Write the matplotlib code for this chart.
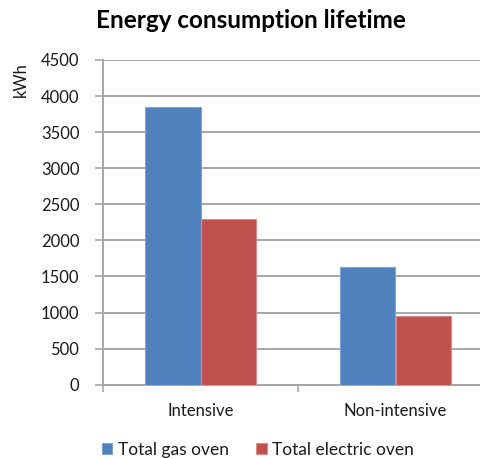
import matplotlib
matplotlib.use("Agg")
import matplotlib.pyplot as plt
import numpy as np

categories = ["Intensive", "Non-intensive"]
series_names = ["Total gas oven", "Total electric oven"]
gas_values = [3850, 1630]
electric_values = [2290, 950]
y_ticks = [0, 500, 1000, 1500, 2000, 2500, 3000, 3500, 4000, 4500]

colors = ["#4F81BD", "#C0504D"]
edge_colors = ["#7FA3D3", "#D98A88"]
grid_color = "#A6A6A6"
font = "Lato"
txt_color = "#1a1a1a"

fig = plt.figure(figsize=(4.81, 4.59), dpi=100)
ax = fig.add_axes([103 / 481, 1 - 384.7 / 459, (493 - 103) / 481, (384.7 - 60) / 459])

x = np.arange(len(categories))
w = 0.285
ax.bar(x - w / 2, gas_values, w, color=colors[0], edgecolor=edge_colors[0], linewidth=0.8,
       label=series_names[0], zorder=3)
ax.bar(x + w / 2, electric_values, w, color=colors[1], edgecolor=edge_colors[1], linewidth=0.8,
       label=series_names[1], zorder=3)

ax.set_xlim(-0.5, 1.5)
ax.set_ylim(0, 4500)
ax.set_yticks(y_ticks)
ax.set_yticklabels([str(v) for v in y_ticks], fontsize=12, fontfamily=font, color=txt_color)
ax.yaxis.grid(True, color=grid_color, linewidth=1.4, zorder=0)
ax.set_axisbelow(True)

ax.set_xticks([-0.5, 0.5, 1.5])
ax.set_xticklabels([])
ax.set_xticks(x, minor=True)
ax.set_xticklabels(categories, minor=True, fontsize=12, fontfamily=font, color=txt_color)
ax.tick_params(axis="x", which="minor", length=0, pad=13)
ax.tick_params(axis="x", which="major", length=5, color=grid_color, width=1.2)
ax.tick_params(axis="y", length=6, color=grid_color, width=1.2, pad=11)

for s in ["top", "right"]:
    ax.spines[s].set_visible(False)
for s in ["left", "bottom"]:
    ax.spines[s].set_color(grid_color)
    ax.spines[s].set_linewidth(1.4)

fig.text(21 / 481, 1 - 80 / 459, "kWh", rotation=90, ha="center", va="center",
         fontsize=12, fontfamily=font, color=txt_color)
fig.text(251 / 481, 1 - 21 / 459, "Energy consumption lifetime", ha="center", va="center",
         fontsize=17.5, fontweight="bold", fontfamily=font, color="#000000")

leg = fig.legend(loc="center", bbox_to_anchor=(258 / 481, 1 - 450 / 459), ncol=2, frameon=False,
                 prop={"family": font, "size": 12.5}, handlelength=0.6, handleheight=0.6,
                 handletextpad=0.3, columnspacing=1.6)
for t in leg.get_texts():
    t.set_color(txt_color)

fig.savefig("out.png", dpi=100)
